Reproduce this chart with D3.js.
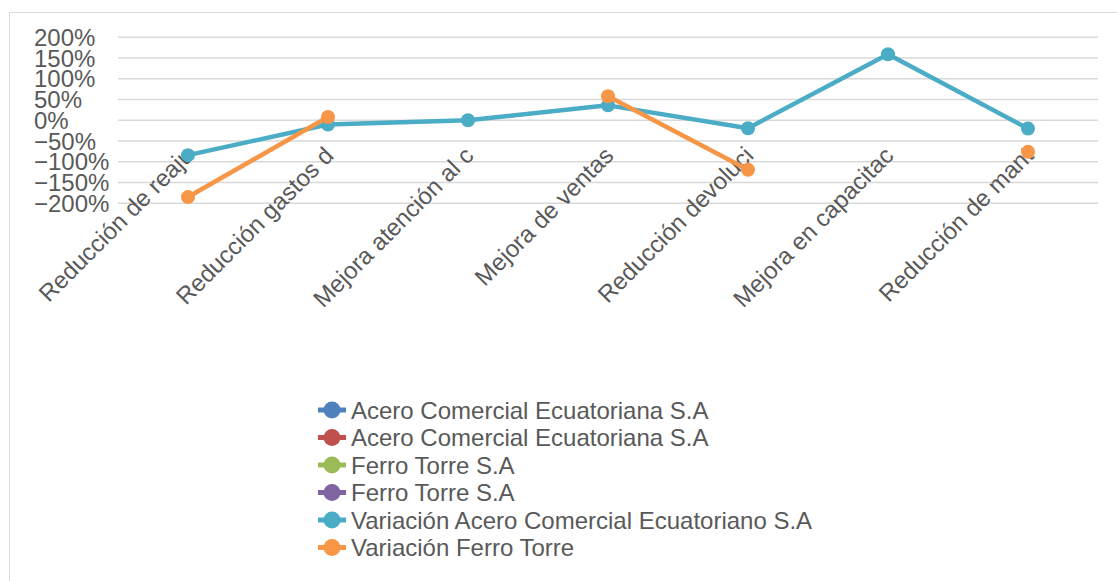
<!DOCTYPE html>
<html lang="es">
<head>
<meta charset="utf-8">
<title>Variación</title>
<script src="https://cdn.jsdelivr.net/npm/d3@7"></script>
<style>
  body { margin: 0; background: #fff; }
  svg { display: block; }
  text { font-family: "Liberation Sans", Arial, sans-serif; fill: #595959; }
</style>
</head>
<body>
<script>
// data
var categories = ["Reducción de reaju", "Reducción gastos d", "Mejora atención al c",
    "Mejora de ventas", "Reducción devoluci", "Mejora en capacitac", "Reducción de mant"];
var variacionAcero = [-0.84, -0.10, 0.00, 0.36, -0.19, 1.59, -0.20];
var variacionFerro = [-1.85, 0.08, null, 0.58, -1.19, null, -0.76];
var yTicks = [-2, -1.5, -1, -0.5, 0, 0.5, 1, 1.5, 2];
var legendNames = ["Acero Comercial Ecuatoriana S.A", "Acero Comercial Ecuatoriana S.A",
    "Ferro Torre S.A", "Ferro Torre S.A", "Variación Acero Comercial Ecuatoriano S.A",
    "Variación Ferro Torre"];
var legendColors = ["#4f81bd", "#c0504d", "#9bbb59", "#8064a2", "#4bacc6", "#f79646"];

var w = 1117, h = 581;
var svg = d3.select("body").append("svg").attr("width", w).attr("height", h);

// chart border
svg.append("rect")
    .attr("x", 9.5).attr("y", 12.5)
    .attr("width", 1120).attr("height", 600)
    .attr("fill", "none").attr("stroke", "#d9d9d9");

var xScale = d3.scalePoint().domain(categories).range([118, 1098]).padding(0.5);
var yScale = d3.scaleLinear().domain([-2, 2]).range([203.3, 37.3]);

// gridlines
svg.append("g").selectAll("line")
    .data(yTicks)
    .enter().append("line")
    .attr("x1", 118).attr("x2", 1098)
    .attr("y1", function(d) { return yScale(d); })
    .attr("y2", function(d) { return yScale(d); })
    .attr("stroke", "#d9d9d9").attr("stroke-width", 1.5);

// y labels (left aligned like the original)
svg.append("g").selectAll("text")
    .data(yTicks)
    .enter().append("text")
    .attr("x", 34)
    .attr("y", function(d) { return yScale(d); })
    .attr("dy", "0.36em")
    .style("font-size", "24px")
    .text(function(d) { return d3.format(".0%")(d); });

// category labels
svg.append("g").selectAll("text")
    .data(categories)
    .enter().append("text")
    .attr("text-anchor", "end")
    .attr("transform", function(d) {
        return "translate(" + (xScale(d) + 7) + ",157) rotate(-45)";
    })
    .style("font-size", "24px")
    .text(function(d) { return d; });

var line = d3.line()
    .defined(function(d) { return d != null; })
    .x(function(d, i) { return xScale(categories[i]); })
    .y(function(d) { return yScale(d); });

function drawSeries(values, color) {
    svg.append("path")
        .datum(values)
        .attr("d", line)
        .attr("fill", "none")
        .attr("stroke", color)
        .attr("stroke-width", 4.5)
        .attr("stroke-linejoin", "round");
    svg.append("g").selectAll("circle")
        .data(values.map(function(v, i) { return {v: v, c: categories[i]}; })
            .filter(function(d) { return d.v != null; }))
        .enter().append("circle")
        .attr("cx", function(d) { return xScale(d.c); })
        .attr("cy", function(d) { return yScale(d.v); })
        .attr("r", 7)
        .attr("fill", color);
}

drawSeries(variacionAcero, "#4bacc6");
drawSeries(variacionFerro, "#f79646");

// legend
var legend = svg.append("g").selectAll("g")
    .data(legendNames)
    .enter().append("g")
    .attr("transform", function(d, i) { return "translate(0," + (410 + i * 27.5) + ")"; });

legend.append("line")
    .attr("x1", 318).attr("x2", 346)
    .attr("stroke", function(d, i) { return legendColors[i]; })
    .attr("stroke-width", 5);
legend.append("circle")
    .attr("cx", 332).attr("r", 8.5)
    .attr("fill", function(d, i) { return legendColors[i]; });
legend.append("text")
    .attr("x", 351)
    .attr("dy", "0.36em")
    .style("font-size", "24px")
    .text(function(d) { return d; });
</script>
</body>
</html>
